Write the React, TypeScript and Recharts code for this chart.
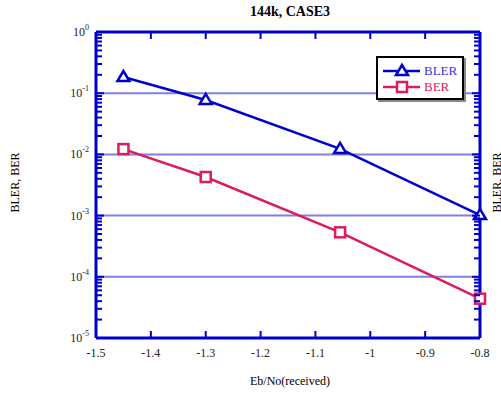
import { LineChart, Line, XAxis, YAxis, ReferenceLine } from 'recharts';

/* BLER / BER vs Eb/No, log axis, Matlab-ish styling */

const ebNo = [-1.45, -1.3, -1.055, -0.8];
const bler = [0.184, 0.0775, 0.0123, 0.00102];
const ber = [0.0122, 0.00427, 0.000533, 0.0000439];

const xTicks = [-1.5, -1.4, -1.3, -1.2, -1.1, -1.0, -0.9, -0.8];
const xTickLabels = ['-1.5', '-1.4', '-1.3', '-1.2', '-1.1', '-1', '-0.9', '-0.8'];
const yExponents = [0, -1, -2, -3, -4, -5];
const gridExponents = [-1, -2, -3, -4];

const BLUE = '#0000cc';
const RED = '#dc1c5c';
const GRID = '#8080e0';
const FONT = '"Liberation Serif", "Times New Roman", serif';

const data = ebNo.map((x, i) => ({ x, bler: bler[i], ber: ber[i] }));

// minor + major ticks for the log axis
const yTicks: number[] = [];
yExponents.forEach((e) => {
  yTicks.push(Math.pow(10, e));
  if (e > -5) {
    for (let m = 2; m <= 9; m++) yTicks.push(m * Math.pow(10, e - 1));
  }
});

const isMajor = (v: number) => Math.abs(Math.log10(v) - Math.round(Math.log10(v))) < 1e-6;

const BottomTick = ({ x, y, payload }: any) => {
  const idx = xTicks.findIndex((t) => Math.abs(t - payload.value) < 1e-9);
  return (
    <g>
      <line x1={x} y1={y} x2={x} y2={y - 7} stroke={BLUE} strokeWidth={2} />
      <text x={x} y={y + 19} textAnchor="middle" fontFamily={FONT} fontSize={12} fill="#222">
        {xTickLabels[idx]}
      </text>
    </g>
  );
};

const TopTick = ({ x, y }: any) => (
  <line x1={x} y1={y} x2={x} y2={y + 7} stroke={BLUE} strokeWidth={2} />
);

const LeftTick = ({ x, y, payload }: any) => {
  const major = isMajor(payload.value);
  const exp = Math.round(Math.log10(payload.value));
  return (
    <g>
      <line x1={x} y1={y} x2={x + (major ? 8 : 6)} y2={y} stroke={BLUE} strokeWidth={2} />
      {major && (
        <text x={x - 7} y={y + 4} textAnchor="end" fontFamily={FONT} fontSize={12} fill="#222">
          10
          <tspan dy={-6} fontSize={8}>
            {String(exp)}
          </tspan>
        </text>
      )}
    </g>
  );
};

const RightTick = ({ x, y, payload }: any) => {
  const major = isMajor(payload.value);
  return <line x1={x} y1={y} x2={x - (major ? 8 : 6)} y2={y} stroke={BLUE} strokeWidth={2} />;
};

const Triangle = ({ cx, cy }: any) => {
  if (cx == null || cy == null) return null;
  return (
    <polygon
      points={`${cx},${cy - 6} ${cx - 6},${cy + 4} ${cx + 6},${cy + 4}`}
      fill="#fff"
      stroke={BLUE}
      strokeWidth={2.5}
    />
  );
};

const Square = ({ cx, cy }: any) => {
  if (cx == null || cy == null) return null;
  return (
    <rect x={cx - 5} y={cy - 5} width={10} height={10} fill="#fff" stroke={RED} strokeWidth={2.5} />
  );
};

const LegendBox = () => (
  <div
    style={{
      position: 'absolute',
      left: 376,
      top: 56,
      width: 84,
      height: 40,
      border: '2px solid #000',
      background: '#fff',
      boxShadow: '2px 2px 0 #888',
    }}
  >
    <svg width={84} height={40} style={{ display: 'block' }}>
      <line x1={5} y1={13} x2={42} y2={13} stroke={BLUE} strokeWidth={2.5} />
      <Triangle cx={24} cy={13} />
      <text x={46} y={17} fill="#3333dd" fontFamily={FONT} fontSize={13}>
        BLER
      </text>
      <line x1={5} y1={29} x2={42} y2={29} stroke={RED} strokeWidth={2.5} />
      <Square cx={24} cy={29} />
      <text x={46} y={33} fill={RED} fontFamily={FONT} fontSize={13}>
        BER
      </text>
    </svg>
  </div>
);

const App = () => {
  return (
    <div style={{ position: 'absolute', left: 0, top: 0, width: 501, height: 396, background: '#fff', overflow: 'hidden' }}>
      <div
        style={{
          position: 'absolute',
          left: 190,
          top: 4,
          width: 200,
          textAlign: 'center',
          fontFamily: FONT,
          fontWeight: 'bold',
          fontSize: 14,
        }}
      >
        144k, CASE3
      </div>
      <div
        style={{
          position: 'absolute',
          left: 190,
          top: 374,
          width: 200,
          textAlign: 'center',
          fontFamily: FONT,
          fontSize: 12,
        }}
      >
        Eb/No(received)
      </div>
      {[15, 497].map((cx) => (
        <div
          key={cx}
          style={{
            position: 'absolute',
            left: cx - 50,
            top: 175,
            width: 100,
            textAlign: 'center',
            transform: 'rotate(-90deg)',
            fontFamily: FONT,
            fontSize: 12,
          }}
        >
          BLER, BER
        </div>
      ))}
      <LineChart
        width={501}
        height={396}
        data={data}
        margin={{ top: 31, right: 20, bottom: 57, left: 95 }}
        style={{ position: 'absolute', left: 0, top: 0 }}
      >
        <XAxis
          xAxisId="b"
          dataKey="x"
          type="number"
          domain={[-1.5, -0.8]}
          ticks={xTicks}
          height={1}
          tickSize={0}
          tickMargin={0}
          tickLine={false}
          axisLine={{ stroke: BLUE, strokeWidth: 3 }}
          tick={<BottomTick />}
          interval={0}
        />
        <XAxis
          xAxisId="t"
          orientation="top"
          dataKey="x"
          type="number"
          domain={[-1.5, -0.8]}
          ticks={xTicks}
          height={1}
          tickSize={0}
          tickMargin={0}
          tickLine={false}
          axisLine={{ stroke: BLUE, strokeWidth: 3 }}
          tick={<TopTick />}
          interval={0}
        />
        <YAxis
          yAxisId="l"
          scale="log"
          type="number"
          domain={[1e-5, 1]}
          allowDataOverflow
          ticks={yTicks}
          width={1}
          tickSize={0}
          tickMargin={0}
          tickLine={false}
          axisLine={{ stroke: BLUE, strokeWidth: 3 }}
          tick={<LeftTick />}
          interval={0}
        />
        <YAxis
          yAxisId="r"
          orientation="right"
          scale="log"
          type="number"
          domain={[1e-5, 1]}
          allowDataOverflow
          ticks={yTicks}
          width={1}
          tickSize={0}
          tickMargin={0}
          tickLine={false}
          axisLine={{ stroke: BLUE, strokeWidth: 3 }}
          tick={<RightTick />}
          interval={0}
        />
        {gridExponents.map((e) => (
          <ReferenceLine
            key={e}
            xAxisId="b"
            yAxisId="l"
            y={Math.pow(10, e)}
            stroke={GRID}
            strokeWidth={2}
          />
        ))}
        <Line
          xAxisId="b"
          yAxisId="l"
          dataKey="bler"
          name="BLER"
          stroke={BLUE}
          strokeWidth={2.5}
          dot={<Triangle />}
          isAnimationActive={false}
        />
        <Line
          xAxisId="b"
          yAxisId="l"
          dataKey="ber"
          name="BER"
          stroke={RED}
          strokeWidth={2.5}
          dot={<Square />}
          isAnimationActive={false}
        />
      </LineChart>
      <LegendBox />
    </div>
  );
};

export default App;
